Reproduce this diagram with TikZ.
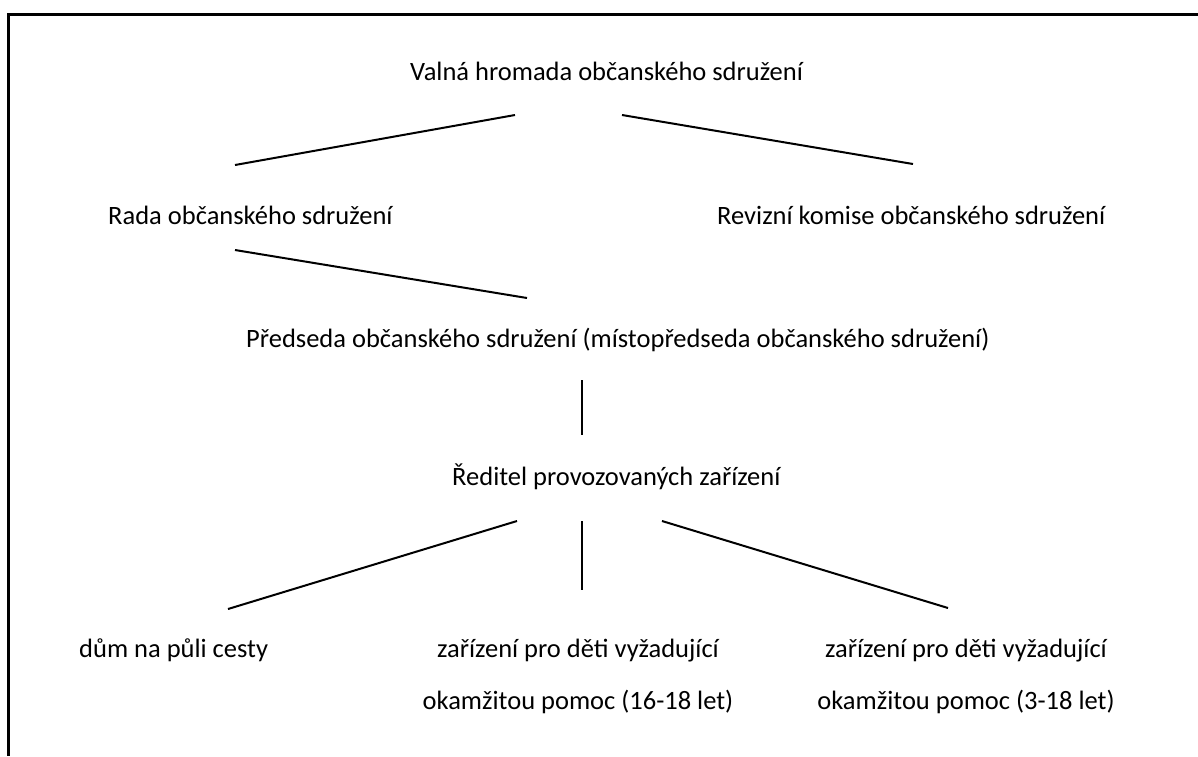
\documentclass[tikz,border=0pt]{standalone}
\usepackage{fontspec}
\setmainfont{Carlito}
\usepackage{tikz}

\tikzset{
	orgtext/.style={inner sep=0pt, anchor=base west, font=\fontsize{26.5}{52}\selectfont},
	twoline/.style={orgtext, anchor=base, align=center},
	link/.style={line width=2pt},
}

\begin{document}
\begin{tikzpicture}[x=1pt, y=-1pt]
					\def\xMAX{1198};
					\def\yMAX{756};
					\useasboundingbox (0,0) rectangle (\xMAX,\yMAX);
					
					% frame (only top and left edge are on the page)
					\draw[line width=3pt] (\xMAX,14) -- (8,14) -- (8,\yMAX);
					
					% texts
					\node[orgtext] (valna) at (410,80) {Valná hromada občanského sdružení};
					\node[orgtext] (rada) at (108,224) {Rada občanského sdružení};
					\node[orgtext] (revize) at (717,224) {Revizní komise občanského sdružení};
					\node[orgtext] (predseda) at (246,347) {Předseda občanského sdružení (místopředseda občanského sdružení)};
					\node[orgtext] (reditel) at (452,485) {Ředitel provozovaných zařízení};
					\node[orgtext] (dum) at (79,657) {dům na půli cesty};
					% base = baseline of the last line
					\node[twoline] (zarizeniA) at (578,709) {zařízení pro děti vyžadující\\okamžitou pomoc (16-18 let)};
					\node[twoline] (zarizeniB) at (966,709) {zařízení pro děti vyžadující\\okamžitou pomoc (3-18 let)};
					
					% line ends
					\coordinate (valnaL) at (515,115);
					\coordinate (valnaR) at (622,115);
					\coordinate (radaT) at (235,165);
					\coordinate (revizeT) at (913,164);
					\coordinate (radaB) at (235,250);
					\coordinate (predsedaT) at (527,298);
					\coordinate (predsedaB) at (582,380);
					\coordinate (reditelT) at (582,435);
					\coordinate (reditelL) at (517,521);
					\coordinate (reditelM) at (582,521);
					\coordinate (reditelR) at (662,521);
					\coordinate (dumT) at (228,609);
					\coordinate (zarizeniAT) at (582,590);
					\coordinate (zarizeniBT) at (948,608);
					
					\begin{scope}[link]
						\draw (valnaL) -- (radaT);
						\draw (valnaR) -- (revizeT);
						\draw (radaB) -- (predsedaT);
						\draw (predsedaB) -- (reditelT);
						\draw (reditelL) -- (dumT);
						\draw (reditelM) -- (zarizeniAT);
						\draw (reditelR) -- (zarizeniBT);
					\end{scope}
				\end{tikzpicture}
\end{document}
